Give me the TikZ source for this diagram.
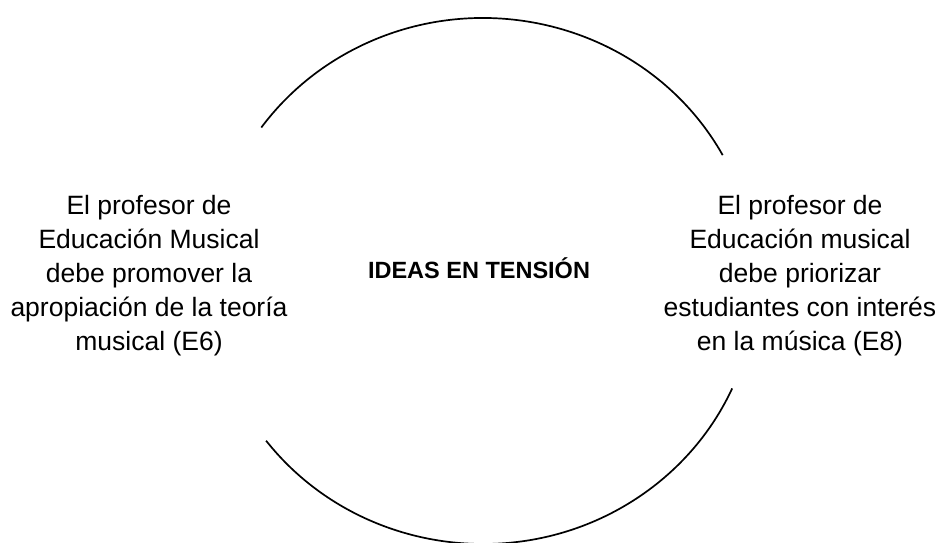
\documentclass[tikz,border=0pt]{standalone}
\usepackage{fontspec}
\setmainfont{Liberation Sans}
\begin{document}
\begin{tikzpicture}[x=1pt,y=1pt,
  arcline/.style={line width=1.7pt, black},
  sidetext/.style={align=center, inner sep=0pt, font=\fontsize{26.5}{34}\selectfont},
  centertext/.style={inner sep=0pt, font=\fontsize{23.5}{28}\selectfont\bfseries}]
\useasboundingbox (0,0) rectangle (941,542);
% top arc
\draw[arcline] ({483+273*cos(28.6)},{261+263*sin(28.6)}) arc[start angle=28.6, end angle=144.3, x radius=273, y radius=263];
% bottom arc
\draw[arcline] ({483+273*cos(217.4)},{261+263*sin(217.4)}) arc[start angle=217.4, end angle=335.9, x radius=273, y radius=263];
\node[sidetext] (left) at (149,266.7) {El profesor de\\Educación Musical\\debe promover la\\apropiación de la teoría\\musical (E6)};
\node[sidetext] (right) at (800,266.7) {El profesor de\\Educación musical\\debe priorizar\\estudiantes con interés\\en la música (E8)};
\node[centertext, anchor=base] (center) at (479,264) {IDEAS EN TENSIÓN};
\end{tikzpicture}
\end{document}
